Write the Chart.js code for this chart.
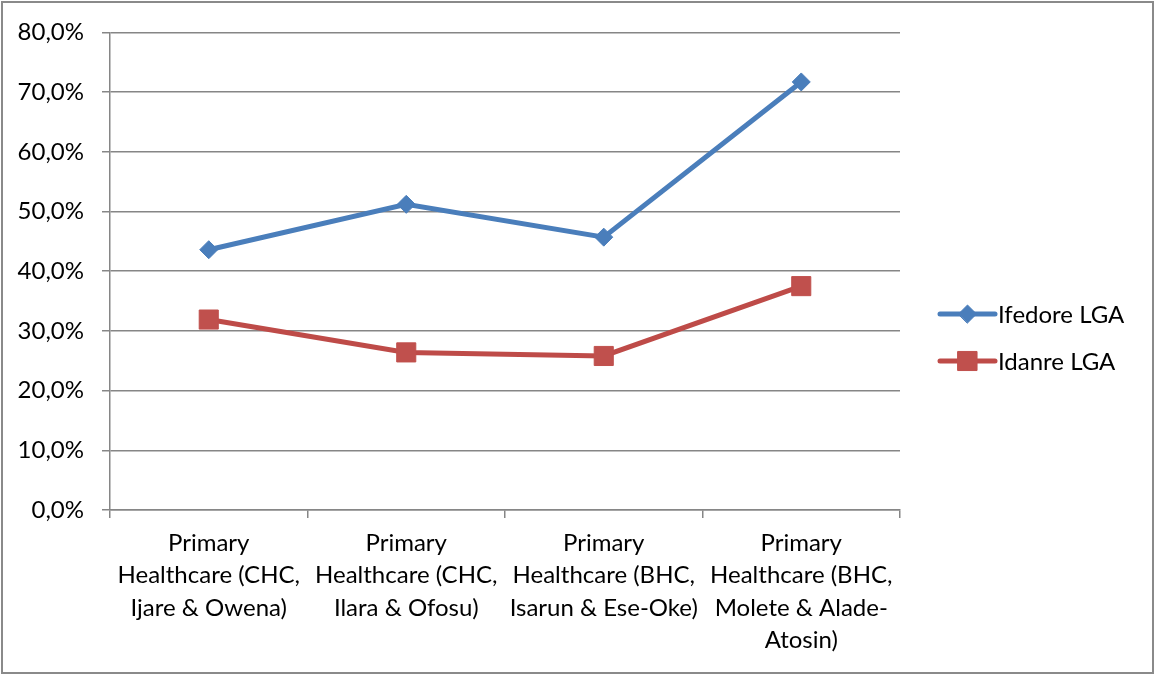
<!DOCTYPE html>
<html>
<head>
<meta charset="utf-8">
<script src="https://cdn.jsdelivr.net/npm/chart.js@4"></script>
<style>
  html, body { margin: 0; padding: 0; background: #ffffff; }
  #wrap { position: relative; width: 1155px; height: 675px; }
  canvas { display: block; }
</style>
</head>
<body>
<div id="wrap"><canvas id="c" width="1155" height="675"></canvas></div>
<script>
// Categories (multi-line axis labels)
const categories = [
  ["Primary", "Healthcare (CHC,", "Ijare & Owena)"],
  ["Primary", "Healthcare (CHC,", "Ilara & Ofosu)"],
  ["Primary", "Healthcare (BHC,", "Isarun & Ese-Oke)"],
  ["Primary", "Healthcare (BHC,", "Molete & Alade-", "Atosin)"]
];

// Series values, in percent
const ifedoreLGA = [43.6, 51.2, 45.7, 71.7];
const idanreLGA = [31.9, 26.4, 25.8, 37.5];

// Series names
const seriesNames = ["Ifedore LGA", "Idanre LGA"];

// Value axis ticks
const yTicks = [0, 10, 20, 30, 40, 50, 60, 70, 80];

const FONT = "Lato, 'Open Sans', 'DejaVu Sans', sans-serif";
const FONT_SIZE = 24;
const AXIS_GRAY = "#868686";

// White page background and a thin frame around the whole chart
const framePlugin = {
  id: "frame",
  beforeDraw(chart) {
    const ctx = chart.ctx;
    ctx.save();
    ctx.fillStyle = "#ffffff";
    ctx.fillRect(0, 0, chart.width, chart.height);
    ctx.restore();
  },
  afterDraw(chart) {
    const ctx = chart.ctx;
    ctx.save();
    ctx.strokeStyle = "#8a8a8a";
    ctx.lineWidth = 2;
    ctx.strokeRect(2, 2, chart.width - 4, chart.height - 4);
    ctx.restore();
  }
};

// Legend drawn as line + marker samples, taken from the datasets
const lineLegendPlugin = {
  id: "lineLegend",
  afterDraw(chart) {
    const ctx = chart.ctx;
    const x0 = 940, x1 = 995, textX = 998;
    const rows = [314, 361];
    chart.data.datasets.forEach((ds, i) => {
      const y = rows[i];
      ctx.save();
      ctx.strokeStyle = ds.borderColor;
      ctx.lineWidth = ds.borderWidth;
      ctx.lineCap = "round";
      ctx.beginPath();
      ctx.moveTo(x0, y);
      ctx.lineTo(x1, y);
      ctx.stroke();
      ctx.fillStyle = ds.pointBackgroundColor;
      ctx.strokeStyle = ds.pointBorderColor;
      ctx.lineWidth = ds.pointBorderWidth;
      Chart.helpers.drawPoint(ctx, {
        pointStyle: ds.pointStyle,
        radius: ds.pointRadius,
        borderWidth: ds.pointBorderWidth,
        rotation: 0
      }, (x0 + x1) / 2, y);
      ctx.fillStyle = "#000000";
      ctx.font = FONT_SIZE + "px " + FONT;
      ctx.textAlign = "left";
      ctx.textBaseline = "middle";
      ctx.fillText(ds.label, textX, y + 1);
      ctx.restore();
    });
  }
};

new Chart(document.getElementById("c"), {
  type: "line",
  data: {
    labels: categories,
    datasets: [
      {
        label: seriesNames[0],
        data: ifedoreLGA,
        borderColor: "#4A7EBB",
        borderWidth: 5,
        pointStyle: "rectRot",
        pointRadius: 9,
        pointHoverRadius: 9,
        pointBackgroundColor: "#4A7EBB",
        pointBorderColor: "#4A7EBB",
        pointBorderWidth: 1,
        tension: 0
      },
      {
        label: seriesNames[1],
        data: idanreLGA,
        borderColor: "#BE4B48",
        borderWidth: 5,
        pointStyle: "rect",
        pointRadius: 13.5,
        pointHoverRadius: 13.5,
        pointBackgroundColor: "#C0504D",
        pointBorderColor: "#C0504D",
        pointBorderWidth: 1,
        tension: 0
      }
    ]
  },
  options: {
    responsive: false,
    animation: false,
    events: [],
    layout: { padding: { left: 0, right: 255, top: 32, bottom: 0 } },
    plugins: {
      legend: { display: false },
      tooltip: { enabled: false },
      title: { display: false }
    },
    scales: {
      x: {
        type: "category",
        offset: true,
        grid: {
          display: true,
          offset: true,
          drawOnChartArea: false,
          drawTicks: true,
          tickLength: 8,
          color: AXIS_GRAY,
          lineWidth: 1.5
        },
        border: { display: true, color: AXIS_GRAY, width: 1.5 },
        ticks: {
          autoSkip: false,
          maxRotation: 0,
          minRotation: 0,
          padding: 9,
          color: "#000000",
          font: { family: FONT, size: FONT_SIZE, lineHeight: 1.35 }
        },
        afterFit(scale) { scale.height = 165; }
      },
      y: {
        type: "linear",
        min: yTicks[0],
        max: yTicks[yTicks.length - 1],
        afterBuildTicks(scale) {
          scale.ticks = yTicks.map(v => ({ value: v }));
        },
        grid: {
          color: AXIS_GRAY,
          lineWidth: 1.5,
          drawTicks: true,
          tickLength: 8
        },
        border: { display: true, color: AXIS_GRAY, width: 1.5 },
        ticks: {
          padding: 18,
          color: "#000000",
          font: { family: FONT, size: FONT_SIZE },
          callback: v => v.toFixed(1).replace(".", ",") + "%"
        },
        afterFit(scale) { scale.width = 110; }
      }
    }
  },
  plugins: [framePlugin, lineLegendPlugin]
});
</script>
</body>
</html>
